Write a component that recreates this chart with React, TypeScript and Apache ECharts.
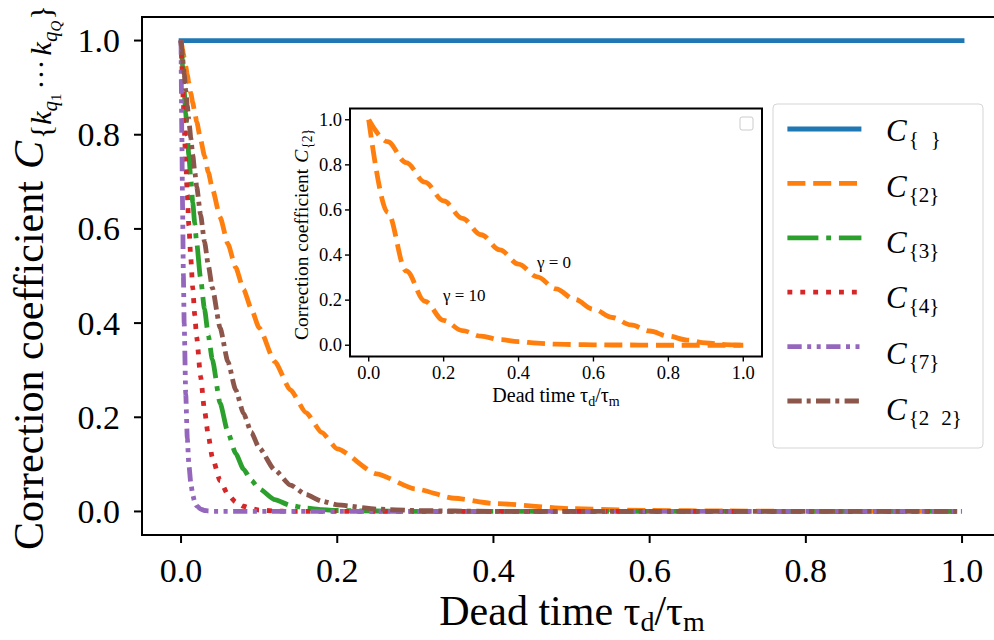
import React, { useEffect, useRef } from 'react';
import * as echarts from 'echarts';

// ---------------- data ----------------
const tickValues = [0, 0.2, 0.4, 0.6, 0.8, 1.0];
const legendNames = ['C{ }', 'C{2}', 'C{3}', 'C{4}', 'C{7}', 'C{2 2}'];
const legendSubs: string[][] = [['{', '}'], ['{2}'], ['{3}'], ['{4}'], ['{7}'], ['{2', '2}']];

const constX = [0, 1];
const cEmpty = [1, 1];

const mainX = [0, 0.001, 0.002, 0.003, 0.004, 0.006, 0.008, 0.01, 0.0125, 0.015, 0.0175, 0.02, 0.025, 0.03, 0.035, 0.04, 0.05, 0.06, 0.07, 0.08, 0.09, 0.1, 0.12, 0.14, 0.16, 0.18, 0.2, 0.25, 0.3, 0.35, 0.4, 0.5, 0.6, 0.7, 0.8, 0.9, 1.0];
const c2 = [1, 0.99, 0.981, 0.972, 0.963, 0.945, 0.927, 0.91, 0.888, 0.868, 0.848, 0.828, 0.79, 0.755, 0.72, 0.686, 0.625, 0.568, 0.518, 0.472, 0.43, 0.39, 0.318, 0.258, 0.21, 0.168, 0.133, 0.08, 0.048, 0.028, 0.017, 0.006, 0.002, 0.001, 0, 0, 0];
const c3 = [1, 0.972, 0.945, 0.918, 0.893, 0.845, 0.798, 0.755, 0.705, 0.656, 0.612, 0.57, 0.495, 0.43, 0.373, 0.323, 0.23, 0.168, 0.123, 0.09, 0.066, 0.048, 0.025, 0.013, 0.007, 0.004, 0.002, 0.001, 0, 0, 0, 0, 0, 0, 0, 0, 0];
const c4 = [1, 0.952, 0.905, 0.862, 0.82, 0.742, 0.672, 0.607, 0.537, 0.474, 0.418, 0.37, 0.287, 0.215, 0.16, 0.115, 0.065, 0.036, 0.02, 0.011, 0.006, 0.003, 0.001, 0, 0, 0, 0, 0, 0, 0, 0, 0, 0, 0, 0, 0, 0];
const c7 = [1, 0.8, 0.64, 0.5, 0.4, 0.25, 0.155, 0.1, 0.06, 0.035, 0.02, 0.012, 0.005, 0.002, 0.001, 0, 0, 0, 0, 0, 0, 0, 0, 0, 0, 0, 0, 0, 0, 0, 0, 0, 0, 0, 0, 0, 0];
const c22 = [1, 0.982, 0.964, 0.946, 0.929, 0.895, 0.862, 0.83, 0.793, 0.757, 0.722, 0.69, 0.63, 0.573, 0.522, 0.475, 0.39, 0.318, 0.258, 0.208, 0.168, 0.135, 0.088, 0.056, 0.036, 0.022, 0.014, 0.005, 0.002, 0.001, 0, 0, 0, 0, 0, 0, 0];

const insetX = [0, 0.05, 0.1, 0.15, 0.2, 0.25, 0.3, 0.35, 0.4, 0.45, 0.5, 0.55, 0.6, 0.65, 0.7, 0.75, 0.8, 0.85, 0.9, 0.95, 1.0];
const insetGamma0 = [1.0, 0.903, 0.81, 0.723, 0.64, 0.563, 0.49, 0.423, 0.36, 0.303, 0.25, 0.203, 0.16, 0.123, 0.09, 0.063, 0.04, 0.023, 0.01, 0.003, 0.0];
const insetGamma10 = [1.0, 0.59, 0.33, 0.195, 0.11, 0.065, 0.04, 0.025, 0.016, 0.009, 0.005, 0.003, 0.002, 0.001, 0.001, 0, 0, 0, 0, 0, 0];

// ---------------- layout of the two plot areas ----------------
const PAD = 0.05;
const MAIN = { left: 142, top: 17, width: 852, height: 518, xmin: -PAD, xmax: -PAD + 852 / 781, ymin: -PAD, ymax: 1 + PAD };
const INSET = { left: 350, top: 108.5, width: 412, height: 248, xmin: -PAD, xmax: 1 + PAD, ymin: -PAD, ymax: 1 + PAD };

// ---------------- helpers ----------------
const FONT = "'Liberation Serif', 'Times New Roman', serif";
const CENTRAL = 0.3375;
let measureCtx: CanvasRenderingContext2D | null = null;
function textWidth(t: string, size: number, italic = false) {
  if (!measureCtx) measureCtx = document.createElement('canvas').getContext('2d');
  measureCtx!.font = `${italic ? 'italic ' : ''}${size}px ${FONT}`;
  return measureCtx!.measureText(t).width;
}

function textStyle(text: string, size: number, align = 'left', italic = false) {
  return {
    text,
    fontSize: size,
    fontFamily: FONT,
    fontStyle: italic ? 'italic' : 'normal',
    fill: '#000',
    align,
    verticalAlign: 'middle',
    textAlign: align,
    textVerticalAlign: 'middle',
  };
}

type Piece = { t: string; s: number; i?: boolean; dy?: number; gap?: number };
function layoutPieces(pieces: Piece[], z = 10) {
  let x = 0;
  const children: any[] = [];
  for (const p of pieces) {
    x += p.gap ?? 0;
    children.push({
      type: 'text',
      x,
      y: (p.dy ?? 0) - CENTRAL * p.s,
      z,
      silent: true,
      style: textStyle(p.t, p.s, 'left', !!p.i),
    });
    x += textWidth(p.t, p.s, p.i);
  }
  return { children, width: x };
}

function pairs(xs: number[], ys: number[]) {
  return xs.map((x, i) => [x, ys[i]]);
}

function axisDecor(g: typeof MAIN, len: number, lw: number, size: number, xGap: number, yGap: number) {
  const els: any[] = [];
  const bottom = g.top + g.height;
  const toX = (v: number) => g.left + ((v - g.xmin) / (g.xmax - g.xmin)) * g.width;
  const toY = (v: number) => bottom - ((v - g.ymin) / (g.ymax - g.ymin)) * g.height;
  tickValues.forEach((v) => {
    const x = toX(v);
    const y = toY(v);
    els.push({ type: 'line', z: 30, silent: true, shape: { x1: x, y1: bottom, x2: x, y2: bottom + len }, style: { stroke: '#000', lineWidth: lw } });
    els.push({ type: 'line', z: 30, silent: true, shape: { x1: g.left - len, y1: y, x2: g.left, y2: y }, style: { stroke: '#000', lineWidth: lw } });
    els.push({ type: 'text', z: 30, silent: true, x, y: bottom + xGap, style: textStyle(v.toFixed(1), size, 'center') });
    els.push({ type: 'text', z: 30, silent: true, x: g.left - yGap, y, style: textStyle(v.toFixed(1), size, 'right') });
  });
  return els;
}

function buildOption() {
  const mainDefs = [
    { name: legendNames[0], xs: constX, ys: cEmpty, color: '#1f77b4', dash: 'solid' as any, cap: 'square' },
    { name: legendNames[1], xs: mainX, ys: c2, color: '#ff7f0e', dash: [18, 7.8], cap: 'butt' },
    { name: legendNames[2], xs: mainX, ys: c3, color: '#2ca02c', dash: [31, 7.8, 4.9, 7.8], cap: 'butt' },
    { name: legendNames[3], xs: mainX, ys: c4, color: '#d62728', dash: [4.9, 8], cap: 'butt' },
    { name: legendNames[4], xs: mainX, ys: c7, color: '#9467bd', dash: [14.3, 5.5, 4, 5.5, 4, 5.5], cap: 'butt' },
    { name: legendNames[5], xs: mainX, ys: c22, color: '#8c564b', dash: [14.3, 5, 4, 5.3], cap: 'butt' },
  ];
  const LW = 4.8;

  const series: any[] = mainDefs.map((d) => ({
    name: d.name,
    type: 'line',
    xAxisIndex: 0,
    yAxisIndex: 0,
    data: pairs(d.xs, d.ys),
    symbol: 'none',
    showSymbol: false,
    clip: false,
    smooth: 0.2,
    smoothMonotone: 'x',
    silent: true,
    lineStyle: { color: d.color, width: LW, type: d.dash, cap: d.cap },
    itemStyle: { color: d.color },
    emphasis: { disabled: true },
  }));
  [insetGamma0, insetGamma10].forEach((ys, k) => {
    series.push({
      name: k === 0 ? 'γ = 0' : 'γ = 10',
      type: 'line',
      xAxisIndex: 1,
      yAxisIndex: 1,
      data: pairs(insetX, ys),
      symbol: 'none',
      showSymbol: false,
      clip: false,
      smooth: 0.35,
      smoothMonotone: 'x',
      silent: true,
      z: 12,
      lineStyle: { color: '#ff7f0e', width: LW, type: [18, 7.8], cap: 'butt' },
      itemStyle: { color: '#ff7f0e' },
      emphasis: { disabled: true },
    });
  });

  const hidden = { axisLine: { show: false, onZero: false }, axisTick: { show: false }, axisLabel: { show: false }, splitLine: { show: false } };

  // ---- graphics ----
  const graphics: any[] = [];
  graphics.push({ type: 'rect', z: 20, silent: true, shape: { x: 142, y: 17, width: 859, height: 518 }, style: { fill: 'none', stroke: '#000', lineWidth: 2 } });
  graphics.push({ type: 'rect', z: 1, silent: true, shape: { x: INSET.left, y: INSET.top, width: INSET.width, height: INSET.height }, style: { fill: '#fff', stroke: 'none' } });
  graphics.push({ type: 'rect', z: 20, silent: true, shape: { x: INSET.left, y: INSET.top, width: INSET.width, height: INSET.height }, style: { fill: 'none', stroke: '#000', lineWidth: 2 } });
  graphics.push({ type: 'rect', z: 20, silent: true, shape: { x: 740, y: 117, width: 13, height: 13, r: 2 }, style: { fill: '#fff', stroke: '#cccccc', lineWidth: 1 } });
  graphics.push({ type: 'rect', z: 3, silent: true, shape: { x: 773, y: 104, width: 210, height: 344, r: 4 }, style: { fill: 'rgba(255,255,255,0.8)', stroke: '#d5d5d5', lineWidth: 1 } });

  graphics.push(...axisDecor(MAIN, 8, 2, 34, 35, 22));
  graphics.push(...axisDecor(INSET, 5, 1.4, 18.5, 16.5, 8));

  // main y title
  const yTitle = layoutPieces([
    { t: 'Correction coefficient', s: 42 },
    { t: 'C', s: 42, i: true, gap: 12 },
    { t: '{', s: 30, dy: 8, gap: 2 },
    { t: 'k', s: 30, i: true, dy: 8 },
    { t: 'q', s: 21, i: true, dy: 14 },
    { t: '1', s: 15, dy: 18 },
    { t: '···', s: 30, dy: 8, gap: 4 },
    { t: 'k', s: 30, i: true, dy: 8, gap: 4 },
    { t: 'q', s: 21, i: true, dy: 14 },
    { t: 'Q', s: 15, i: true, dy: 18 },
    { t: '}', s: 30, dy: 8, gap: 1 },
  ]);
  graphics.push({ type: 'group', x: 43, y: 550, rotation: Math.PI / 2, children: yTitle.children });

  // main x title
  const xTitle = layoutPieces([
    { t: 'Dead time τ', s: 42 },
    { t: 'd', s: 28, dy: 6 },
    { t: '/', s: 42 },
    { t: 'τ', s: 42 },
    { t: 'm', s: 28, dy: 6 },
  ]);
  graphics.push({ type: 'group', x: 572 - xTitle.width / 2, y: 625, children: xTitle.children });

  // inset y title
  const iyTitle = layoutPieces([
    { t: 'Correction coefficient', s: 19.5 },
    { t: 'C', s: 19.5, i: true, gap: 6 },
    { t: '{2}', s: 13.7, dy: 4, gap: 1 },
  ]);
  graphics.push({ type: 'group', x: 308, y: 340, rotation: Math.PI / 2, children: iyTitle.children });

  // inset x title
  const ixTitle = layoutPieces([
    { t: 'Dead time τ', s: 20 },
    { t: 'd', s: 14, dy: 4 },
    { t: '/', s: 20 },
    { t: 'τ', s: 20 },
    { t: 'm', s: 14, dy: 4 },
  ]);
  graphics.push({ type: 'group', x: 556 - ixTitle.width / 2, y: 402, children: ixTitle.children });

  // inset annotations
  graphics.push({ type: 'text', x: 537, y: 262, z: 21, silent: true, style: textStyle('γ = 0', 17) });
  graphics.push({ type: 'text', x: 443, y: 295, z: 21, silent: true, style: textStyle('γ = 10', 17) });

  // legend labels
  const legendTop = 122;
  const itemH = 14;
  const spacing = 55.8;
  legendNames.forEach((_, i) => {
    const iconY = legendTop + itemH / 2 + i * spacing;
    const subs = legendSubs[i];
    const pieces: Piece[] = [{ t: 'C', s: 31, i: true }];
    subs.forEach((s, k) => pieces.push({ t: s, s: 21, dy: 5, gap: k === 0 ? 2 : 12 }));
    const lab = layoutPieces(pieces, 6);
    graphics.push({ type: 'group', x: 886, y: iconY + 12, children: lab.children });
  });

  return {
    animation: false,
    backgroundColor: '#ffffff',
    textStyle: { fontFamily: FONT },
    grid: [
      { left: MAIN.left, top: MAIN.top, width: MAIN.width, height: MAIN.height, containLabel: false },
      { left: INSET.left, top: INSET.top, width: INSET.width, height: INSET.height, containLabel: false, z: 10 },
    ],
    xAxis: [
      { gridIndex: 0, type: 'value', min: MAIN.xmin, max: MAIN.xmax, position: 'bottom', ...hidden },
      { gridIndex: 1, type: 'value', min: INSET.xmin, max: INSET.xmax, position: 'bottom', ...hidden },
    ],
    yAxis: [
      { gridIndex: 0, type: 'value', min: MAIN.ymin, max: MAIN.ymax, position: 'left', ...hidden },
      { gridIndex: 1, type: 'value', min: INSET.ymin, max: INSET.ymax, position: 'left', ...hidden },
    ],
    legend: {
      show: true,
      orient: 'vertical',
      left: 785,
      top: legendTop,
      padding: 0,
      itemWidth: 74,
      itemHeight: itemH,
      itemGap: spacing - itemH,
      selectedMode: false,
      formatter: () => '',
      textStyle: { fontSize: 10 },
      z: 5,
      data: mainDefs.map((d) => ({
        name: d.name,
        itemStyle: { opacity: 0 },
        lineStyle: { color: d.color, width: LW, type: d.dash, cap: 'butt', opacity: 1 },
      })),
    },
    graphic: { elements: graphics },
    series,
  };
}

export default function App() {
  const ref = useRef<HTMLDivElement>(null);
  useEffect(() => {
    if (!ref.current) return;
    const chart = echarts.init(ref.current, null, { renderer: 'svg' });
    chart.setOption(buildOption() as any);
    return () => chart.dispose();
  }, []);
  return (
    <div
      ref={ref}
      style={{ position: 'fixed', left: 0, top: 0, width: 994, height: 640, background: '#fff' }}
    />
  );
}
